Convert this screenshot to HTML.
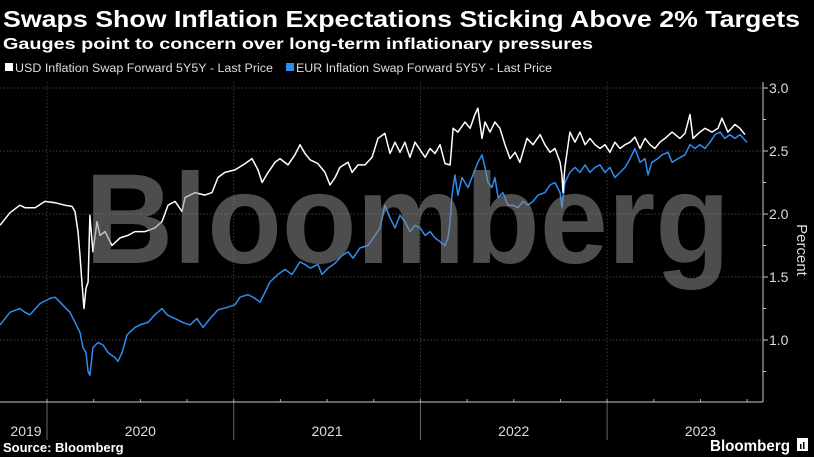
<!DOCTYPE html>
<html><head><meta charset="utf-8">
<style>
html,body{margin:0;padding:0;background:#000;}
svg{display:block;font-family:"Liberation Sans",sans-serif;}
</style></head>
<body>
<svg id="chart" width="814" height="457" viewBox="0 0 814 457" xmlns="http://www.w3.org/2000/svg">
<rect width="814" height="457" fill="#000"/>
<text x="3" y="27" fill="#fff" font-weight="bold" font-size="23" textLength="797" lengthAdjust="spacingAndGlyphs">Swaps Show Inflation Expectations Sticking Above 2% Targets</text>
<text x="3" y="49" fill="#fff" font-weight="bold" font-size="16" textLength="590" lengthAdjust="spacingAndGlyphs">Gauges point to concern over long-term inflationary pressures</text>
<g>
<g><rect x="5" y="63" width="8" height="8" fill="#fff"/><text x="15" y="72" fill="#ddd" font-size="11.5" textLength="258" lengthAdjust="spacingAndGlyphs">USD Inflation Swap Forward 5Y5Y - Last Price</text></g>
<g><rect x="286" y="63" width="8" height="8" fill="#2f8cf0"/><text x="296" y="72" fill="#ddd" font-size="11.5" textLength="256" lengthAdjust="spacingAndGlyphs">EUR Inflation Swap Forward 5Y5Y - Last Price</text></g>
</g>
<g id="grid"></g>
<g id="lines"></g>
<text x="85" y="263" fill="rgba(140,140,140,0.55)" font-weight="bold" font-size="128" textLength="645" lengthAdjust="spacingAndGlyphs">Bloomberg</text>
<g id="axes"></g>
<text transform="translate(797,250) rotate(90)" fill="#ddd" font-size="15" text-anchor="middle">Percent</text>
<text x="3" y="452" fill="#fff" font-weight="bold" font-size="13">Source: Bloomberg</text>
<g><text x="710" y="451" fill="#fff" font-weight="bold" font-size="16" textLength="80" lengthAdjust="spacingAndGlyphs">Bloomberg</text><rect x="797" y="438" width="11" height="13" fill="#fff"/><rect x="800" y="444" width="1.5" height="5" fill="#000"/><rect x="803" y="442" width="1.5" height="7" fill="#000"/></g>
</svg>
<script>
const usdDates=[2019.748,2019.802,2019.855,2019.882,2019.936,2019.989,2020.043,2020.096,2020.134,2020.150,2020.166,2020.177,2020.187,2020.198,2020.209,2020.220,2020.230,2020.246,2020.268,2020.284,2020.311,2020.348,2020.391,2020.434,2020.471,2020.525,2020.578,2020.616,2020.648,2020.686,2020.723,2020.739,2020.793,2020.846,2020.884,2020.916,2020.953,2021.007,2021.061,2021.098,2021.130,2021.152,2021.184,2021.221,2021.248,2021.291,2021.328,2021.355,2021.382,2021.409,2021.451,2021.489,2021.516,2021.543,2021.569,2021.612,2021.634,2021.666,2021.703,2021.741,2021.773,2021.810,2021.837,2021.864,2021.891,2021.917,2021.944,2021.971,2021.998,2022.025,2022.052,2022.078,2022.105,2022.132,2022.159,2022.175,2022.201,2022.239,2022.266,2022.292,2022.308,2022.330,2022.346,2022.373,2022.399,2022.426,2022.453,2022.480,2022.507,2022.533,2022.571,2022.603,2022.641,2022.667,2022.694,2022.721,2022.748,2022.758,2022.764,2022.774,2022.801,2022.828,2022.855,2022.882,2022.908,2022.935,2022.962,2022.989,2023.015,2023.042,2023.069,2023.096,2023.123,2023.149,2023.176,2023.203,2023.230,2023.256,2023.283,2023.310,2023.348,2023.390,2023.417,2023.444,2023.460,2023.497,2023.524,2023.562,2023.594,2023.615,2023.647,2023.685,2023.712,2023.738];
const usdValues=[1.91,2.01,2.07,2.05,2.05,2.10,2.09,2.07,2.06,2.02,1.86,1.67,1.46,1.25,1.41,1.46,1.99,1.70,1.94,1.83,1.86,1.75,1.81,1.83,1.86,1.86,1.89,1.94,2.07,2.10,2.02,2.13,2.17,2.15,2.17,2.29,2.33,2.35,2.40,2.44,2.35,2.25,2.33,2.41,2.44,2.39,2.47,2.55,2.48,2.43,2.40,2.33,2.23,2.29,2.37,2.41,2.33,2.39,2.39,2.45,2.60,2.64,2.48,2.57,2.49,2.57,2.45,2.57,2.51,2.45,2.52,2.48,2.55,2.40,2.39,2.68,2.65,2.73,2.68,2.79,2.84,2.60,2.73,2.65,2.73,2.68,2.55,2.44,2.49,2.41,2.60,2.55,2.63,2.55,2.49,2.52,2.41,2.31,2.17,2.37,2.65,2.57,2.65,2.55,2.60,2.55,2.52,2.55,2.49,2.57,2.52,2.55,2.57,2.61,2.52,2.60,2.55,2.52,2.57,2.60,2.65,2.60,2.64,2.79,2.60,2.65,2.68,2.65,2.68,2.76,2.65,2.71,2.68,2.63];
const eurDates=[2019.748,2019.802,2019.855,2019.882,2019.909,2019.963,2020.016,2020.043,2020.070,2020.096,2020.123,2020.150,2020.177,2020.193,2020.209,2020.220,2020.230,2020.246,2020.273,2020.300,2020.327,2020.364,2020.380,2020.402,2020.428,2020.471,2020.498,2020.541,2020.578,2020.616,2020.643,2020.686,2020.728,2020.766,2020.803,2020.836,2020.873,2020.916,2020.969,2021.007,2021.034,2021.077,2021.114,2021.141,2021.168,2021.194,2021.237,2021.275,2021.312,2021.355,2021.382,2021.409,2021.451,2021.473,2021.505,2021.543,2021.580,2021.612,2021.639,2021.676,2021.719,2021.757,2021.784,2021.810,2021.837,2021.864,2021.891,2021.917,2021.944,2021.971,2021.998,2022.025,2022.052,2022.078,2022.105,2022.132,2022.148,2022.159,2022.169,2022.185,2022.201,2022.223,2022.255,2022.282,2022.308,2022.330,2022.346,2022.362,2022.383,2022.399,2022.416,2022.442,2022.469,2022.496,2022.523,2022.550,2022.576,2022.603,2022.630,2022.667,2022.694,2022.721,2022.748,2022.758,2022.774,2022.801,2022.828,2022.855,2022.882,2022.908,2022.935,2022.962,2022.989,2023.015,2023.042,2023.069,2023.096,2023.123,2023.149,2023.176,2023.203,2023.219,2023.240,2023.272,2023.294,2023.326,2023.348,2023.380,2023.417,2023.444,2023.471,2023.497,2023.524,2023.551,2023.578,2023.605,2023.631,2023.658,2023.685,2023.712,2023.749];
const eurValues=[1.12,1.22,1.25,1.22,1.20,1.29,1.33,1.34,1.30,1.26,1.22,1.14,1.06,0.94,0.90,0.75,0.72,0.94,0.98,0.96,0.90,0.86,0.83,0.90,1.04,1.10,1.12,1.14,1.20,1.25,1.20,1.17,1.14,1.12,1.17,1.10,1.17,1.24,1.26,1.28,1.34,1.36,1.33,1.30,1.38,1.46,1.52,1.56,1.52,1.62,1.60,1.57,1.60,1.52,1.57,1.61,1.67,1.70,1.65,1.73,1.75,1.83,1.89,2.07,1.97,1.89,1.99,1.94,1.86,1.91,1.89,1.83,1.86,1.81,1.78,1.75,1.81,1.94,2.15,2.31,2.15,2.29,2.21,2.31,2.41,2.47,2.37,2.25,2.21,2.29,2.13,2.17,2.07,2.07,2.05,2.10,2.07,2.10,2.15,2.17,2.23,2.25,2.17,2.05,2.25,2.33,2.37,2.33,2.39,2.33,2.37,2.39,2.33,2.37,2.29,2.33,2.37,2.44,2.52,2.41,2.44,2.31,2.41,2.44,2.47,2.49,2.41,2.44,2.47,2.55,2.52,2.55,2.52,2.57,2.63,2.65,2.60,2.63,2.60,2.63,2.57];
const yTicks=[1.0,1.5,2.0,2.5,3.0];
const yearLabels=["2019","2020","2021","2022","2023"];
const yearStarts=[2020,2021,2022,2023];

const NS="http://www.w3.org/2000/svg";
const X0=47, YW=186.7, PLOT_R=763, PLOT_B=402;
function xScale(t){return X0+(t-2020)*YW;}
function yScale(v){return 214-(v-2)*126;}
function mk(tag,attrs,parent){const e=document.createElementNS(NS,tag);for(const k in attrs)e.setAttribute(k,attrs[k]);parent.appendChild(e);return e;}
const grid=document.getElementById('grid'),axes=document.getElementById('axes'),lines=document.getElementById('lines');

yTicks.forEach(v=>{
  const y=yScale(v);
  const g=mk('line',{x1:0,x2:PLOT_R,y1:y,y2:y,stroke:'#555','stroke-width':0.8,'stroke-dasharray':'1.5,2'},grid);
  
  
  const t=mk('line',{x1:PLOT_R,x2:PLOT_R+5,y1:y,y2:y,stroke:'#ccc','stroke-width':1},axes);
  
  
  const l=mk('text',{x:PLOT_R+6,y:y+5,fill:'#ddd','font-size':14},axes);
  l.textContent=v.toFixed(1);
  
  
  const h=yScale(v+0.25);
  if(v<3){const m=mk('line',{x1:PLOT_R,x2:PLOT_R+3,y1:h,y2:h,stroke:'#ccc','stroke-width':1},axes);
  
  }
});
const mm=mk('line',{x1:PLOT_R,x2:PLOT_R+3,y1:yScale(0.75),y2:yScale(0.75),stroke:'#ccc','stroke-width':1},axes);



yearStarts.forEach(yr=>{
  const x=xScale(yr);
  const g=mk('line',{x1:x,x2:x,y1:82,y2:PLOT_B,stroke:'#444','stroke-width':0.8,'stroke-dasharray':'1.5,2'},grid);
  
  
  const s=mk('line',{x1:x,x2:x,y1:PLOT_B,y2:440,stroke:'#666','stroke-width':1},axes);
  
  
});
for(let q=2019.75;q<2023.9;q+=0.25){
  const x=xScale(q);
  if(x<=2||x>=PLOT_R)continue;
  const t=mk('line',{x1:x,x2:x,y1:PLOT_B-3,y2:PLOT_B,stroke:'#aaa','stroke-width':1},axes);
  
  
}
const xa=mk('line',{x1:0,x2:PLOT_R,y1:PLOT_B,y2:PLOT_B,stroke:'#ccc','stroke-width':1},axes);


const ya=mk('line',{x1:PLOT_R,x2:PLOT_R,y1:82,y2:PLOT_B,stroke:'#ccc','stroke-width':1},axes);


const labelCenters=[2019.87,2020.5,2021.5,2022.5,2023.5];
yearLabels.forEach((lab,i)=>{
  let x=xScale(labelCenters[i]);
  if(i===0)x=26;
  const t=mk('text',{x:x,y:436,fill:'#ddd','font-size':14,'text-anchor':'middle'},axes);
  t.textContent=lab;
  
  
});

function drawSeries(dates,vals,color,name){
  const d=dates.map((t,i)=>(i?'L':'M')+xScale(t).toFixed(1)+','+yScale(vals[i]).toFixed(1)).join('');
  const p=mk('path',{d:d,fill:'none',stroke:color,'stroke-width':1.5,'stroke-linejoin':'round'},lines);
  
  
}
drawSeries(eurDates,eurValues,'#2f8cf0','eur-series-line');
drawSeries(usdDates,usdValues,'#ffffff','usd-series-line');
</script>
</body></html>
